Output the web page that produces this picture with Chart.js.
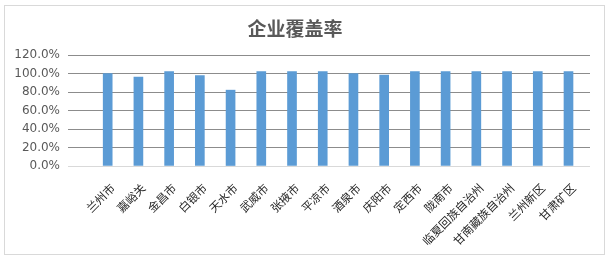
<!DOCTYPE html>
<html>
<head>
<meta charset="utf-8">
<script src="https://cdn.jsdelivr.net/npm/chart.js@4/dist/chart.umd.min.js"></script>
<style>
  html, body { margin: 0; padding: 0; background: #fff; }
  #wrap { width: 610px; height: 260px; position: relative; }
</style>
</head>
<body>
<div id="wrap"><canvas id="c" width="610" height="260"></canvas></div>
<script>
// 各地区企业覆盖率（%）
const regions = ['兰州市', '嘉峪关', '金昌市', '白银市', '天水市', '武威市', '张掖市', '平凉市',
  '酒泉市', '庆阳市', '定西市', '陇南市', '临夏回族自治州', '甘南藏族自治州', '兰州新区', '甘肃矿区'];
const coverage = [100, 96, 102, 97.8, 82, 102, 102, 102, 100, 98.2, 102, 102, 102, 102, 102, 102];
const yTicks = [0, 20, 40, 60, 80, 100, 120];

const points = coverage.map((v, i) => ({ x: i, y: v }));

// 白底和外框
const frame = {
  id: 'frame',
  beforeDraw(chart) {
    const ctx = chart.ctx;
    ctx.save();
    ctx.fillStyle = '#ffffff';
    ctx.fillRect(0, 0, chart.width, chart.height);
    ctx.strokeStyle = '#d9d9d9';
    ctx.lineWidth = 1;
    ctx.strokeRect(4.5, 5.5, 600, 249);
    ctx.restore();
  }
};

new Chart(document.getElementById('c'), {
  type: 'bar',
  data: {
    datasets: [{
      data: points,
      backgroundColor: '#5b9bd5',
      borderWidth: 0,
      barThickness: 9
    }]
  },
  options: {
    responsive: false,
    animation: false,
    layout: { padding: { left: 0, right: 20, top: 0, bottom: 0 } },
    plugins: {
      legend: { display: false },
      tooltip: { enabled: false },
      title: {
        display: true,
        text: '企业覆盖率',
        color: '#595959',
        font: { family: '"Noto Sans CJK SC"', size: 19, weight: 'bold', lineHeight: 1.2 },
        padding: { top: 17, bottom: 15.2 }
      }
    },
    scales: {
      x: {
        type: 'linear',
        offset: false,
        min: -1.292,
        max: 15.70,
        grid: { display: false },
        border: { display: false },
        afterBuildTicks(scale) {
          scale.ticks = regions.map((_, i) => ({ value: i }));
        },
        afterFit(scale) { scale.height = 94; },
        ticks: {
          autoSkip: false,
          minRotation: 45,
          maxRotation: 45,
          padding: 7,
          labelOffset: 5,
          color: '#262626',
          font: { family: '"Noto Sans CJK SC"', size: 11.5 },
          callback: (v) => regions[v]
        }
      },
      y: {
        min: 0,
        max: 120,
        afterBuildTicks(scale) {
          scale.ticks = yTicks.map(v => ({ value: v }));
        },
        afterFit(scale) { scale.width = 68; },
        border: { display: false },
        grid: {
          drawTicks: false,
          color: (ctx) => ctx.tick && ctx.tick.value === 0 ? '#d9d9d9' : '#8c8c8c',
          lineWidth: 1
        },
        ticks: {
          padding: 8,
          color: '#595959',
          font: { family: '"DejaVu Sans"', size: 12 },
          callback: (v) => v.toFixed(1) + '%'
        }
      }
    }
  },
  plugins: [frame]
});
</script>
</body>
</html>
